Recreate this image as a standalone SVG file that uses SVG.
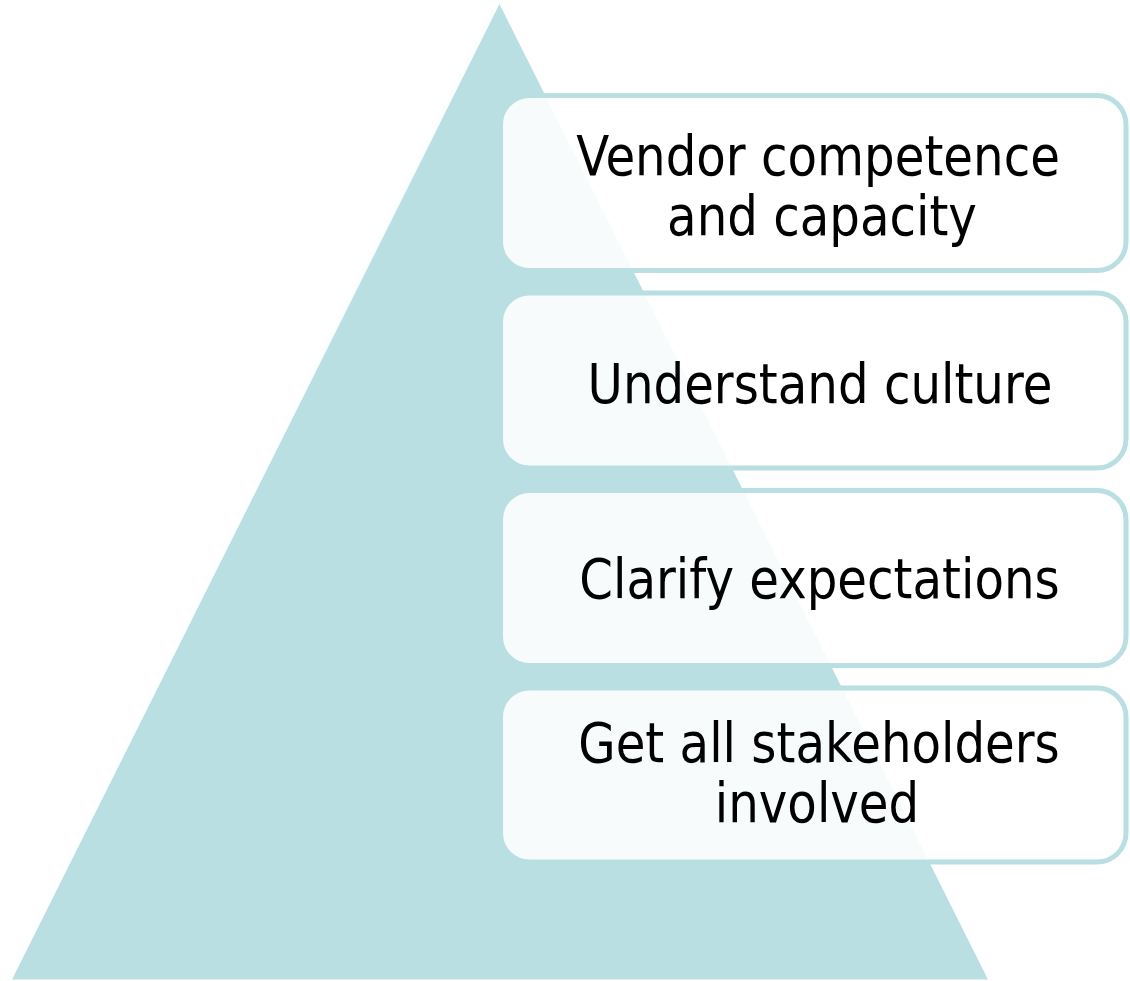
<svg xmlns="http://www.w3.org/2000/svg" width="1130" height="981" viewBox="0 0 1130 981">
  <style>
    .tri { fill: #BADFE2; }
    .box { fill: #FFFFFF; fill-opacity: 0.88; stroke: #BADFE2; stroke-width: 5; }
    .lbl { font-family: "DejaVu Sans", Verdana, sans-serif; font-size: 56px; fill: #000000; text-anchor: middle; }
  </style>
  <rect width="1130" height="981" fill="#FFFFFF"/>
  <g id="pyramid">
    <polygon class="tri" points="499.5,4 12,979.5 988,979.5"/>
  </g>
  <g id="connectors"></g>
  <g id="node1">
    <rect class="box" x="500.5" y="95.5" width="625.5" height="175" rx="29" ry="29"/>
    <text class="lbl" transform="translate(818,175) scale(0.862,1)">Vendor competence</text>
    <text class="lbl" transform="translate(822,235) scale(0.862,1)">and capacity</text>
  </g>
  <g id="node2">
    <rect class="box" x="500.5" y="293" width="625.5" height="175" rx="29" ry="29"/>
    <text class="lbl" transform="translate(820,403) scale(0.862,1)">Understand culture</text>
  </g>
  <g id="node3">
    <rect class="box" x="500.5" y="490.5" width="625.5" height="175" rx="29" ry="29"/>
    <text class="lbl" transform="translate(819.5,598) scale(0.862,1)">Clarify expectations</text>
  </g>
  <g id="node4">
    <rect class="box" x="500.5" y="688" width="625.5" height="174" rx="29" ry="29"/>
    <text class="lbl" transform="translate(819,762) scale(0.862,1)">Get all stakeholders</text>
    <text class="lbl" transform="translate(817,822) scale(0.862,1)">involved</text>
  </g>
</svg>
